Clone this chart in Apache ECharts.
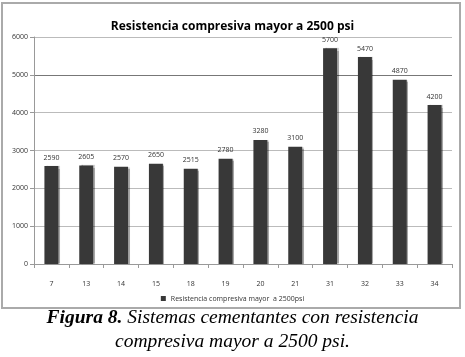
<!DOCTYPE html>
<html>
<head>
<meta charset="utf-8">
<script src="https://cdn.jsdelivr.net/npm/echarts@6/dist/echarts.min.js"></script>
<style>
  html, body { margin: 0; padding: 0; background: #fff; }
  #main { width: 465px; height: 357px; }
</style>
</head>
<body>
<div id="main"></div>
<script>
// sistemas cementantes
const categories = ['7', '13', '14', '15', '18', '19', '20', '21', '31', '32', '33', '34']
const resistencia = [2590, 2605, 2570, 2650, 2515, 2780, 3280, 3100, 5700, 5470, 4870, 4200]
const seriesName = 'Resistencia compresiva mayor  a 2500psi'
// grid line colours, 0..6000
const gridColors = ['#bbb', '#bbb', '#bbb', '#bbb', '#bbb', '#777', '#bbb']

const myChart = echarts.init(document.getElementById('main'))
const option = {
  animation: false,
  title: {
    text: 'Resistencia compresiva mayor a 2500 psi',
    left: 'center',
    top: 16,
    textStyle: { fontFamily: 'Open Sans', fontSize: 12, fontWeight: 'bold', color: '#000' }
  },
  legend: {
    bottom: 50,
    left: 'center',
    itemWidth: 5,
    itemHeight: 5,
    itemGap: 4,
    icon: 'rect',
    textStyle: { fontFamily: 'Open Sans', fontSize: 7, color: '#333' },
    data: [seriesName]
  },
  grid: { left: 34, right: 13, top: 37, bottom: 93 },
  xAxis: {
    type: 'category',
    data: categories,
    axisLine: { lineStyle: { color: '#999' } },
    axisTick: { show: true, length: 4, lineStyle: { color: '#999' } },
    axisLabel: { fontFamily: 'Open Sans', fontSize: 7, color: '#333', margin: 16 }
  },
  yAxis: {
    type: 'value',
    min: 0,
    max: 6000,
    interval: 1000,
    axisLine: { show: true, lineStyle: { color: '#999' } },
    axisTick: { show: true, length: 4, lineStyle: { color: '#999' } },
    axisLabel: { fontFamily: 'Open Sans', fontSize: 7, color: '#333', margin: 6, formatter: v => String(v) },
    splitLine: { lineStyle: { color: gridColors } }
  },
  series: [
    {
      name: seriesName,
      type: 'bar',
      data: resistencia,
      barWidth: 14,
      itemStyle: { color: '#383838', shadowColor: 'rgba(0,0,0,0.35)', shadowOffsetX: 1.5, shadowBlur: 1 },
      label: {
        show: true,
        position: 'top',
        distance: 5,
        fontFamily: 'Open Sans',
        fontSize: 7,
        color: '#333'
      }
    }
  ],
  graphic: [
    {
      type: 'rect',
      shape: { x: 2, y: 3, width: 458, height: 305 },
      style: { fill: 'none', stroke: '#aaa', lineWidth: 2 },
      z: -1
    },
    {
      type: 'text',
      left: 'center',
      top: 308,
      style: {
        text: '{b|Figura 8.} Sistemas cementantes con resistencia',
        font: 'italic 19.5px "Liberation Serif"',
        fill: '#000',
        rich: {
          b: { font: 'italic bold 19.5px "Liberation Serif"', fill: '#000' }
        }
      }
    },
    {
      type: 'text',
      left: 'center',
      top: 332,
      style: {
        text: 'compresiva mayor a 2500 psi.',
        font: 'italic 19.5px "Liberation Serif"',
        fill: '#000'
      }
    }
  ]
}
myChart.setOption(option)
</script>
</body>
</html>
